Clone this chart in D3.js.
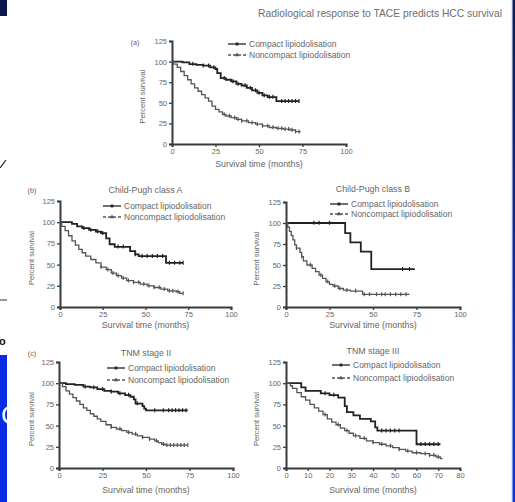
<!DOCTYPE html>
<html>
<head>
<meta charset="utf-8">
<script src="https://cdn.jsdelivr.net/npm/d3@7"></script>
<style>
  html, body { margin: 0; padding: 0; background: #fff; }
  svg { display: block; font-family: "Liberation Sans", Arial, sans-serif; }
</style>
</head>
<body>
<svg id="chart" width="515" height="502"></svg>
<script>
// ---- data ----
const legendLabels = ['Compact lipiodolisation', 'Noncompact lipiodolisation'];
const ticks100 = [0, 25, 50, 75, 100];
const ticks80 = [0, 10, 20, 30, 40, 50, 60, 70, 80];
const yTicks = [0, 25, 50, 75, 100, 125];

// [month, percent survival] step points, plus last follow-up month and censor months
const aCompact = [[0,100],[6,99],[10,97],[14,96],[18,95],[22,93],[25,91],[26,86],[28,80],[31,78],[34,76],[37,73],[40,71],[43,68],[46,65],[49,62],[52,59],[55,57],[60,52]];
const aCompactEnd = 73;
const aCompactCens = [12,18,21,24,30,35,38,42,45,48,50,53,56,58,63,65,67,69,71,73];
const aNon = [[0,100],[1,97],[3,93],[5,88],[7,83],[9,78],[11,73],[13,68],[15,64],[17,60],[19,56],[21,52],[23,46],[25,42],[27,39],[29,36],[31,34],[34,32],[37,30],[40,28],[44,26],[48,24],[52,22],[56,20],[60,19],[64,18],[68,17],[71,15]];
const aNonEnd = 74;
const aNonCens = [30,33,36,38,40,43,46,49,52,55,58,61,63,65,67,69,71,73];

const bACompact = [[0,100],[7,98],[10,95],[13,93],[17,91],[21,89],[24,87],[27,81],[29,74],[32,71],[41,66],[44,62],[46,60],[62,52]];
const bACompactEnd = 72;
const bACompactCens = [14,18,22,25,34,37,44,48,51,54,57,60,64,67,70,72];
const bANon = [[0,100],[1,95],[3,90],[5,84],[7,78],[9,73],[11,68],[13,64],[15,60],[18,56],[21,52],[24,47],[27,44],[30,40],[33,37],[36,34],[39,31],[43,29],[47,27],[51,25],[55,23],[59,21],[63,19],[68,18],[70,16]];
const bANonEnd = 72;
const bANonCens = [24,28,31,34,37,40,43,46,49,52,55,58,61,64,66,69,72];

const bBCompact = [[0,100],[34,88],[37,77],[43,66],[49,45]];
const bBCompactEnd = 74;
const bBCompactCens = [16,19,25,67,71];
const bBNon = [[0,100],[1,95],[2,90],[3,85],[4,80],[5,74],[6,70],[8,65],[9,60],[10,55],[12,50],[15,46],[17,42],[19,38],[21,34],[23,30],[25,27],[27,25],[30,22],[33,20],[37,19],[44,15]];
const bBNonEnd = 71;
const bBNonCens = [6,9,14,20,24,28,31,35,40,45,48,52,55,57,60,63,66,69];

const c2Compact = [[0,100],[4,99],[9,98],[14,96],[18,95],[22,93],[26,91],[30,90],[34,88],[38,86],[41,84],[43,81],[44,76],[48,73],[49,70],[50,68]];
const c2CompactEnd = 74;
const c2CompactCens = [15,20,25,30,35,40,45,55,60,63,65,67,69,71,73];
const c2Non = [[0,100],[2,96],[4,91],[6,87],[8,83],[10,79],[12,75],[14,71],[16,68],[18,64],[20,61],[22,58],[24,55],[27,51],[30,48],[33,46],[36,44],[39,42],[42,40],[45,38],[48,36],[52,34],[55,32],[57,30],[59,28],[61,27]];
const c2NonEnd = 74;
const c2NonCens = [30,35,40,44,48,52,56,60,62,64,66,68,70,72,74];

const c3Compact = [[0,100],[7,95],[9,91],[16,88],[20,86],[24,83],[27,73],[28,66],[31,62],[34,58],[39,55],[41,48],[42,44],[60,28]];
const c3CompactEnd = 71;
const c3CompactCens = [18,22,44,46,48,50,52,62,64,66,68,70];
const c3Non = [[0,100],[2,97],[3,94],[5,89],[7,84],[9,80],[11,75],[13,71],[15,67],[17,63],[19,58],[21,54],[23,51],[25,47],[27,44],[29,41],[31,38],[34,35],[37,32],[40,30],[43,28],[46,26],[49,24],[52,22],[55,20],[58,18],[62,17],[66,15],[69,13],[71,11]];
const c3NonEnd = 72;
const c3NonCens = [18,24,28,32,36,40,44,48,52,56,60,64,66,68,70];

// ---- layout of the five panels ----
const panels = [
  { tag: '(a)', title: null, x0: 172, x1: 346, yTop: 41, yBot: 144, xMax: 100, xTicks: ticks100,
    legX: 228, legY: 44, legGap: 11, tagX: 135, tagY: 42, yLabX: 145, xLabY: 167,
    series: [[aCompact, aCompactEnd, aCompactCens], [aNon, aNonEnd, aNonCens]] },
  { tag: '(b)', title: 'Child-Pugh class A', x0: 60, x1: 231, yTop: 201, yBot: 307, xMax: 100, xTicks: ticks100,
    legX: 103, legY: 206, legGap: 11, tagX: 32, tagY: 190, titleY: 190, yLabX: 34, xLabY: 328,
    series: [[bACompact, bACompactEnd, bACompactCens], [bANon, bANonEnd, bANonCens]] },
  { tag: null, title: 'Child-Pugh class B', x0: 286, x1: 460, yTop: 202, yBot: 307, xMax: 100, xTicks: ticks100,
    legX: 330, legY: 204, legGap: 10, titleY: 189, yLabX: 259, xLabY: 328,
    series: [[bBCompact, bBCompactEnd, bBCompactCens], [bBNon, bBNonEnd, bBNonCens]] },
  { tag: '(c)', title: 'TNM stage II', x0: 59, x1: 233, yTop: 362, yBot: 468, xMax: 100, xTicks: ticks100,
    legX: 107, legY: 368, legGap: 12, tagX: 32, tagY: 353, titleY: 353, yLabX: 34, xLabY: 493,
    series: [[c2Compact, c2CompactEnd, c2CompactCens], [c2Non, c2NonEnd, c2NonCens]] },
  { tag: null, title: 'TNM stage III', x0: 286, x1: 460, yTop: 362, yBot: 468, xMax: 80, xTicks: ticks80,
    legX: 332, legY: 365, legGap: 13, titleY: 351, yLabX: 259, xLabY: 493,
    series: [[c3Compact, c3CompactEnd, c3CompactCens], [c3Non, c3NonEnd, c3NonCens]] }
];

const svg = d3.select('#chart');
const ink = '#3a3a3a';
const txt = '#666';
const seriesStyle = [
  { stroke: '#222', width: 1.8, dash: null, marker: 'square' },
  { stroke: '#555', width: 1.3, dash: '3,2', marker: 'triangle' }
];

// value of a step curve at time t
function survAt (steps, t) {
  let s = steps[0][1];
  steps.forEach(d => { if (d[0] <= t) s = d[1]; });
  return s;
}

function drawPanel (p) {
  const g = svg.append('g');
  const x = d3.scaleLinear().domain([0, p.xMax]).range([p.x0, p.x1]);
  const y = d3.scaleLinear().domain([0, 125]).range([p.yBot, p.yTop]);

  // axes
  const xAxis = d3.axisBottom(x).tickValues(p.xTicks).tickSize(3).tickPadding(2);
  const yAxis = d3.axisLeft(y).tickValues(yTicks).tickSize(3).tickPadding(2);
  [g.append('g').attr('transform', `translate(0,${p.yBot})`).call(xAxis),
   g.append('g').attr('transform', `translate(${p.x0},0)`).call(yAxis)].forEach(a => {
    a.select('.domain').attr('stroke', ink).attr('stroke-width', 2);
    a.selectAll('.tick line').attr('stroke', ink).attr('stroke-width', 1.3);
    a.selectAll('.tick text').attr('fill', txt).attr('font-size', 7.5);
  });

  g.append('text')
    .attr('transform', `translate(${p.yLabX},${(p.yTop + p.yBot) / 2 + 4}) rotate(-90)`)
    .attr('text-anchor', 'middle').attr('font-size', 7.6).attr('fill', txt)
    .text('Percent survival');
  g.append('text')
    .attr('x', (p.x0 + p.x1) / 2).attr('y', p.xLabY)
    .attr('text-anchor', 'middle').attr('font-size', 8.8).attr('fill', txt)
    .text('Survival time (months)');

  if (p.tag) {
    g.append('text').attr('x', p.tagX).attr('y', p.tagY + 2.5)
      .attr('text-anchor', 'middle').attr('font-size', 7.2).attr('fill', txt).text(p.tag);
  }
  if (p.title) {
    g.append('text').attr('x', (p.x0 + p.x1) / 2).attr('y', p.titleY + 3)
      .attr('text-anchor', 'middle').attr('font-size', 8.8).attr('fill', txt).text(p.title);
  }

  // curves with censor ticks
  const line = d3.line().curve(d3.curveStepAfter).x(d => x(d[0])).y(d => y(d[1]));
  p.series.forEach((s, i) => {
    const [steps, end, cens] = s;
    const st = seriesStyle[i];
    const pts = steps.concat([[end, steps[steps.length - 1][1]]]);
    g.append('path').datum(pts)
      .attr('d', line)
      .attr('fill', 'none')
      .attr('stroke', st.stroke)
      .attr('stroke-width', st.width);
    g.selectAll(null).data(cens).enter().append('line')
      .attr('x1', d => x(d)).attr('x2', d => x(d))
      .attr('y1', d => y(survAt(steps, d)) - 2.2)
      .attr('y2', d => y(survAt(steps, d)) + 1.8)
      .attr('stroke', st.stroke)
      .attr('stroke-width', 1.2);
  });

  // legend
  legendLabels.forEach((lab, i) => {
    const st = seriesStyle[i];
    const ly = p.legY + i * p.legGap;
    const lg = g.append('g');
    lg.append('line')
      .attr('x1', p.legX).attr('x2', p.legX + 18)
      .attr('y1', ly).attr('y2', ly)
      .attr('stroke', st.stroke).attr('stroke-width', 1.3)
      .attr('stroke-dasharray', st.dash);
    lg.append('path')
      .attr('transform', `translate(${p.legX + 9},${ly})`)
      .attr('d', d3.symbol().type(st.marker === 'square' ? d3.symbolSquare : d3.symbolTriangle).size(8))
      .attr('fill', st.stroke);
    lg.append('text')
      .attr('x', p.legX + 21).attr('y', ly + 2.8)
      .attr('font-size', 8.5).attr('fill', txt)
      .text(lab);
  });
}

panels.forEach(drawPanel);

// page header
svg.append('text')
  .attr('x', 258).attr('y', 17)
  .attr('font-size', 10.3).attr('fill', '#6e6e6e')
  .text('Radiological response to TACE predicts HCC survival');

// page edge decorations of the scan
svg.append('rect').attr('x', 0).attr('y', 0).attr('width', 7).attr('height', 16).attr('fill', '#0b1650');
svg.append('line').attr('x1', 0).attr('y1', 168).attr('x2', 6).attr('y2', 160)
  .attr('stroke', '#222').attr('stroke-width', 1.2);
svg.append('line').attr('x1', 0).attr('y1', 300).attr('x2', 7).attr('y2', 300)
  .attr('stroke', '#333').attr('stroke-width', 1);
svg.append('text').attr('x', -1).attr('y', 345)
  .attr('font-size', 11).attr('font-weight', 'bold').attr('fill', '#111').text('o');
svg.append('rect').attr('x', 0).attr('y', 355).attr('width', 7).attr('height', 147).attr('fill', '#0a2be4');
svg.append('text').attr('x', 1).attr('y', 424)
  .attr('font-size', 26).attr('fill', '#fff').text('C');

const grad = svg.append('defs').append('linearGradient')
  .attr('id', 'edge').attr('x1', 0).attr('y1', 0).attr('x2', 0).attr('y2', 1);
grad.append('stop').attr('offset', 0).attr('stop-color', '#0b1a55');
grad.append('stop').attr('offset', 1).attr('stop-color', '#0a33f2');
svg.append('rect').attr('x', 511).attr('y', 0).attr('width', 1.5).attr('height', 502).attr('fill', '#e8ecf8');
svg.append('rect').attr('x', 512.5).attr('y', 0).attr('width', 2.5).attr('height', 502).attr('fill', 'url(#edge)');
</script>
</body>
</html>
